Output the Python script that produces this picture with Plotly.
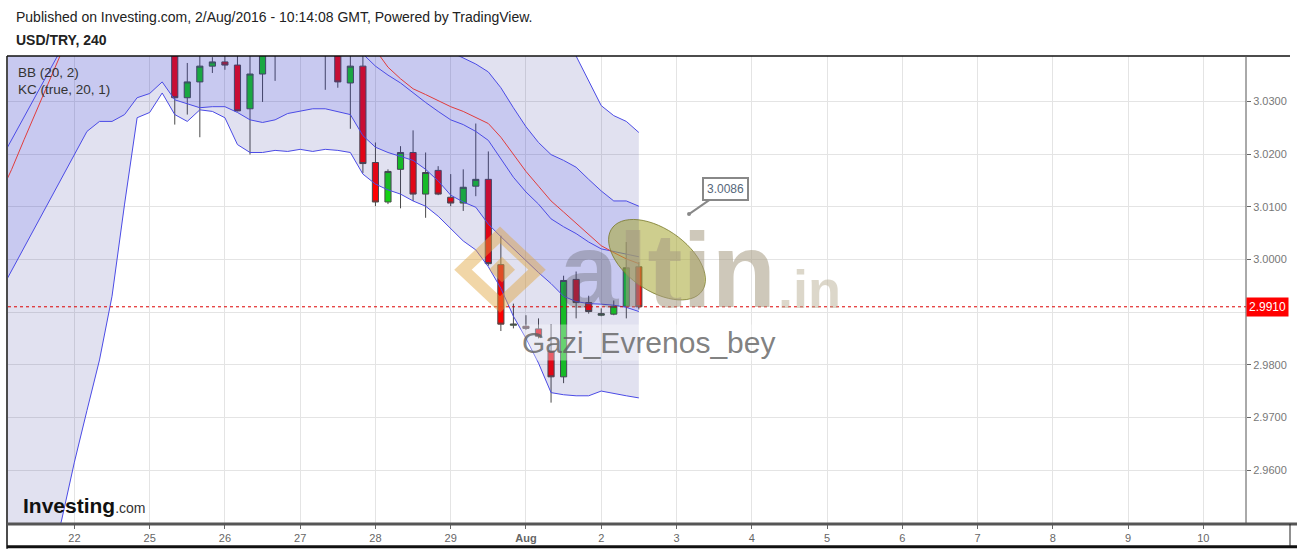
import numpy as np
import plotly.graph_objects as go

# ---------------- data ----------------
# time axis in trading-day units: 0 = 22 Jul 2016, one 4-hour bar = 1/6 day
day_ticks = list(range(16))
day_labels = ["22", "25", "26", "27", "28", "29", "<b>Aug</b>", "2", "3", "4",
              "5", "6", "7", "8", "9", "10"]
first_bar_day = -1          # first indicator bar: 21 Jul 00:00
bars_per_day = 6

# Bollinger Bands (20, 2)
bb_upper = [3.1228, 3.1209, 3.1209, 3.1247, 3.1275, 3.1288, 3.1286, 3.1271, 3.1250, 3.1205,
            3.1086, 3.0979, 3.1007, 3.0988, 3.1041, 3.1062, 3.1043, 3.1047, 3.1054, 3.1086,
            3.1082, 3.1064, 3.1041, 3.1013, 3.0971, 3.0930, 3.0881, 3.0833, 3.0781, 3.0709,
            3.0652, 3.0599, 3.0562, 3.0537, 3.0524, 3.0520, 3.0522, 3.0526, 3.0520, 3.0530,
            3.0518, 3.0507, 3.0484, 3.0475, 3.0475, 3.0426, 3.0386, 3.0339, 3.0292, 3.0273,
            3.0262, 3.0241]
bb_basis = [3.0120, 3.0171, 3.0228, 3.0284, 3.0341, 3.0398, 3.0450, 3.0492, 3.0530, 3.0567,
            3.0596, 3.0624, 3.0643, 3.0652, 3.0658, 3.0662, 3.0665, 3.0665, 3.0662, 3.0652,
            3.0643, 3.0633, 3.0624, 3.0609, 3.0590, 3.0567, 3.0545, 3.0520, 3.0492, 3.0435,
            3.0398, 3.0365, 3.0343, 3.0324, 3.0313, 3.0301, 3.0290, 3.0281, 3.0269, 3.0258,
            3.0232, 3.0199, 3.0167, 3.0139, 3.0111, 3.0090, 3.0069, 3.0047, 3.0026, 3.0013,
            3.0001, 2.9992]
bb_lower = [2.9020, 2.9133, 2.9247, 2.9322, 2.9407, 2.9507, 2.9615, 2.9713, 2.9809, 2.9930,
            3.0105, 3.0269, 3.0279, 3.0316, 3.0275, 3.0262, 3.0284, 3.0281, 3.0269, 3.0218,
            3.0203, 3.0203, 3.0207, 3.0205, 3.0209, 3.0205, 3.0209, 3.0207, 3.0203, 3.0162,
            3.0143, 3.0132, 3.0124, 3.0111, 3.0101, 3.0082, 3.0058, 3.0035, 3.0018, 2.9986,
            2.9945, 2.9892, 2.9850, 2.9803, 2.9747, 2.9743, 2.9741, 2.9741, 2.9750, 2.9745,
            2.9741, 2.9737]
# Keltner Channels (true, 20, 1)
kc_upper = [3.0433, 3.0477, 3.0518, 3.0562, 3.0603, 3.0647, 3.0690, 3.0722, 3.0760, 3.0805,
            3.0830, 3.0820, 3.0828, 3.0817, 3.0850, 3.0858, 3.0865, 3.0860, 3.0852, 3.0849,
            3.0847, 3.0837, 3.0813, 3.0782, 3.0747, 3.0709, 3.0667, 3.0628, 3.0577, 3.0549,
            3.0522, 3.0498, 3.0477, 3.0449, 3.0428, 3.0413, 3.0394, 3.0382, 3.0371, 3.0356,
            3.0326, 3.0288, 3.0252, 3.0222, 3.0199, 3.0188, 3.0175, 3.0152, 3.0130, 3.0111,
            3.0111, 3.0101]
kc_basis = [3.0184, 3.0228, 3.0271, 3.0315, 3.0358, 3.0401, 3.0445, 3.0483, 3.0511, 3.0533,
            3.0552, 3.0564, 3.0571, 3.0577, 3.0577, 3.0577, 3.0577, 3.0575, 3.0571, 3.0564,
            3.0556, 3.0549, 3.0539, 3.0530, 3.0515, 3.0498, 3.0477, 3.0454, 3.0426, 3.0390,
            3.0367, 3.0350, 3.0335, 3.0316, 3.0298, 3.0281, 3.0265, 3.0256, 3.0243, 3.0226,
            3.0190, 3.0156, 3.0128, 3.0105, 3.0077, 3.0062, 3.0049, 3.0033, 3.0020, 3.0015,
            3.0011, 3.0005]
kc_lower = [2.9935, 2.9979, 3.0024, 3.0067, 3.0113, 3.0156, 3.0199, 3.0243, 3.0262, 3.0262,
            3.0275, 3.0307, 3.0315, 3.0337, 3.0303, 3.0296, 3.0288, 3.0290, 3.0290, 3.0279,
            3.0265, 3.0260, 3.0265, 3.0277, 3.0282, 3.0286, 3.0286, 3.0281, 3.0275, 3.0235,
            3.0213, 3.0203, 3.0196, 3.0188, 3.0171, 3.0149, 3.0122, 3.0109, 3.0099, 3.0067,
            3.0043, 3.0020, 2.9998, 2.9975, 2.9954, 2.9930, 2.9920, 2.9916, 2.9915, 2.9913,
            2.9909, 2.9901]

# USD/TRY 4h candles, first one = bar #14 (25 Jul 08:00)
candle_first_bar = 14
c_open = [3.0420, 3.0307, 3.0337, 3.0367, 3.0375, 3.0369, 3.0286, 3.0352, 3.0395, 3.0405,
          3.0415, 3.0405, 3.0410, 3.0400, 3.0335, 3.0367, 3.0184, 3.0109, 3.0171, 3.0203,
          3.0124, 3.0169, 3.0118, 3.0107, 3.0139, 3.0152, 2.9990, 2.9875, 2.9873, 2.9868,
          2.9826, 2.9777, 2.9962, 2.9918, 2.9894, 2.9896, 2.9911, 2.9986]
c_high = [3.0440, 3.0373, 3.0392, 3.0384, 3.0388, 3.0395, 3.0390, 3.0415, 3.0425, 3.0430,
          3.0435, 3.0425, 3.0420, 3.0410, 3.0390, 3.0388, 3.0222, 3.0171, 3.0215, 3.0245,
          3.0203, 3.0177, 3.0162, 3.0171, 3.0258, 3.0205, 3.0045, 2.9916, 2.9894, 2.9888,
          2.9877, 2.9969, 2.9977, 2.9931, 2.9907, 2.9922, 3.0033, 2.9995]
c_low = [3.0256, 3.0275, 3.0232, 3.0354, 3.0360, 3.0281, 3.0199, 3.0299, 3.0339, 3.0392,
         3.0395, 3.0390, 3.0322, 3.0326, 3.0248, 3.0164, 3.0101, 3.0105, 3.0097, 3.0111,
         3.0079, 3.0122, 3.0101, 3.0092, 3.0120, 2.9988, 2.9864, 2.9869, 2.9866, 2.9850,
         2.9728, 2.9765, 2.9888, 2.9897, 2.9892, 2.9894, 2.9888, 2.9905]
c_close = [3.0307, 3.0337, 3.0367, 3.0375, 3.0369, 3.0282, 3.0352, 3.0395, 3.0405, 3.0415,
           3.0405, 3.0410, 3.0400, 3.0337, 3.0367, 3.0182, 3.0109, 3.0167, 3.0203, 3.0124,
           3.0165, 3.0124, 3.0107, 3.0137, 3.0152, 2.9992, 2.9877, 2.9877, 2.9869, 2.9854,
           2.9777, 2.9960, 2.9918, 2.9901, 2.9897, 2.9911, 2.9984, 2.9910]

price_ticks = [2.96, 2.97, 2.98, 2.99, 3.00, 3.01, 3.02, 3.03]

# callout drawing "3.0086" (3 Aug, 04:00)
note_day, note_hour, note_value = 8, 4, 3.0086

# ---------------- derived positions ----------------
ind_x = [first_bar_day + i / bars_per_day for i in range(len(bb_upper))]
cnd_x = [first_bar_day + (candle_first_bar + i) / bars_per_day for i in range(len(c_open))]
last_close = c_close[-1]

# pixel geometry of the plotting area
W, H = 1297, 552
L, R, T, B = 8, 1246, 56, 527
def px(x):
    return (x - L) / (R - L)
def py(y):
    return (B - y) / (B - T)

BLUE = "rgb(75,75,230)"
fig = go.Figure()

fig.add_trace(go.Scatter(x=ind_x, y=bb_upper, mode="lines",
                         line=dict(color=BLUE, width=1), hoverinfo="skip"))
fig.add_trace(go.Scatter(x=ind_x, y=bb_lower, mode="lines", fill="tonexty",
                         fillcolor="rgba(40,45,150,0.14)",
                         line=dict(color=BLUE, width=1), hoverinfo="skip"))
fig.add_trace(go.Scatter(x=ind_x, y=kc_upper, mode="lines",
                         line=dict(color=BLUE, width=1), hoverinfo="skip"))
fig.add_trace(go.Scatter(x=ind_x, y=kc_lower, mode="lines", fill="tonexty",
                         fillcolor="rgba(50,60,240,0.14)",
                         line=dict(color=BLUE, width=1), hoverinfo="skip"))
fig.add_trace(go.Scatter(x=ind_x, y=kc_basis, mode="lines",
                         line=dict(color=BLUE, width=1), hoverinfo="skip"))
fig.add_trace(go.Scatter(x=ind_x, y=bb_basis, mode="lines",
                         line=dict(color="rgb(225,60,60)", width=1), hoverinfo="skip"))

fig.add_trace(go.Candlestick(
    x=cnd_x, open=c_open, high=c_high, low=c_low, close=c_close,
    increasing=dict(fillcolor="#14d214", line=dict(color="#4a4a4a", width=1)),
    decreasing=dict(fillcolor="#ff0000", line=dict(color="#4a4a4a", width=1)),
    whiskerwidth=0, hoverinfo="skip"))

x_left = (L - 74.4) / 75.26
x_right = (R - 74.4) / 75.26
y_top = 3.03 + (101.7 - T) / 5300
y_bot = 3.03 - (B - 101.7) / 5300

font_family = "Arial, Liberation Sans, sans-serif"

shapes = []
# current price dotted line
shapes.append(dict(type="line", xref="paper", yref="y", x0=0, x1=1, y0=last_close, y1=last_close,
                   line=dict(color="#dd0000", width=1, dash="dot"), layer="above"))
# watermark logo (diamond chevron)
cx, cy = 500, 271
shapes.append(dict(type="path", xref="paper", yref="paper",
                   path=f"M {px(cx)},{py(cy-35)} L {px(cx-37)},{py(cy)} L {px(cx)},{py(cy+35)} L {px(cx+37)},{py(cy)} Z",
                   line=dict(color="rgba(225,165,60,0.45)", width=12), fillcolor="rgba(0,0,0,0)"))
shapes.append(dict(type="path", xref="paper", yref="paper",
                   path=f"M {px(cx+2)},{py(cy-13)} L {px(cx-11)},{py(cy)} L {px(cx+2)},{py(cy+13)} L {px(cx+15)},{py(cy)} Z",
                   line=dict(width=0), fillcolor="rgba(225,165,60,0.45)"))
# ellipse drawing
t = np.linspace(0, 2 * np.pi, 60)
ea, eb, th = 55, 31, np.deg2rad(35)
ex = 657 + ea * np.cos(th) * np.cos(t) - eb * np.sin(th) * np.sin(t)
ey = 261 + ea * np.sin(th) * np.cos(t) + eb * np.cos(th) * np.sin(t)
epath = "M " + " L ".join(f"{px(a)},{py(b)}" for a, b in zip(ex, ey)) + " Z"
shapes.append(dict(type="path", xref="paper", yref="paper", path=epath,
                   fillcolor="rgba(165,165,50,0.55)", line=dict(color="rgba(120,120,40,0.8)", width=1)))
# frame lines
shapes.append(dict(type="line", xref="paper", yref="paper", x0=px(7), x1=px(7), y0=py(552), y1=py(56),
                   line=dict(color="#111", width=1.5)))
shapes.append(dict(type="line", xref="paper", yref="paper", x0=px(7), x1=px(1290), y0=py(56), y1=py(56),
                   line=dict(color="#111", width=1.5)))
shapes.append(dict(type="line", xref="paper", yref="paper", x0=1, x1=1, y0=py(527), y1=py(56),
                   line=dict(color="#555", width=1)))
shapes.append(dict(type="line", xref="paper", yref="paper", x0=px(7), x1=px(1297), y0=py(527), y1=py(527),
                   line=dict(color="#555", width=3)))
shapes.append(dict(type="line", xref="paper", yref="paper", x0=px(1290), x1=px(1290), y0=py(549), y1=py(527),
                   line=dict(color="#222", width=1)))
shapes.append(dict(type="line", xref="paper", yref="paper", x0=px(7), x1=px(1297), y0=py(550), y1=py(550),
                   line=dict(color="#111", width=3)))

ann = []
ann.append(dict(xref="paper", yref="paper", x=px(14), y=py(17), xanchor="left", yanchor="middle",
                text="Published on Investing.com, 2/Aug/2016 - 10:14:08 GMT, Powered by TradingView.",
                showarrow=False, font=dict(family=font_family, size=14, color="#222")))
ann.append(dict(xref="paper", yref="paper", x=px(14), y=py(40), xanchor="left", yanchor="middle",
                text="<b>USD/TRY, 240</b>", showarrow=False,
                font=dict(family=font_family, size=14, color="#222")))
ann.append(dict(xref="paper", yref="paper", x=px(16), y=py(73), xanchor="left", yanchor="middle",
                text="BB (20, 2)", showarrow=False, font=dict(family=font_family, size=13.5, color="#333")))
ann.append(dict(xref="paper", yref="paper", x=px(16), y=py(90), xanchor="left", yanchor="middle",
                text="KC (true, 20, 1)", showarrow=False, font=dict(family=font_family, size=13.5, color="#333")))
# watermark text
ann.append(dict(xref="paper", yref="paper", x=px(558), y=py(272), xanchor="left", yanchor="middle",
                text="<span style='color:rgba(80,80,80,0.55)'>a</span>ltin", showarrow=False,
                font=dict(family=font_family, size=105, color="rgba(165,155,130,0.55)", weight="bold")))
ann.append(dict(xref="paper", yref="paper", x=px(776), y=py(290), xanchor="left", yanchor="middle",
                text=".in", showarrow=False,
                font=dict(family=font_family, size=54, color="rgba(185,175,150,0.5)", weight="bold")))
ann.append(dict(xref="paper", yref="paper", x=px(648), y=py(344), xanchor="center", yanchor="middle",
                text="Gazi_Evrenos_bey", showarrow=False, bgcolor="rgba(255,255,255,0.35)",
                font=dict(family=font_family, size=30, color="rgba(95,95,95,0.8)")))
# Investing.com logo
ann.append(dict(xref="paper", yref="paper", x=px(21), y=py(508), xanchor="left", yanchor="middle",
                text="<b>Investing</b><span style='font-size:14px;color:#333'>.com</span>", showarrow=False,
                font=dict(family=font_family, size=21, color="#111")))
# callout
ann.append(dict(x=note_day + note_hour / 24, y=note_value, xref="x", yref="y",
                text=f"{note_value:.4f}", showarrow=True, arrowhead=6, arrowsize=0.5, arrowwidth=2,
                arrowcolor="#888", ax=36, ay=-25, bgcolor="white", bordercolor="#888",
                borderwidth=2, borderpad=3, font=dict(family=font_family, size=12, color="#56677a")))
# current price label
ann.append(dict(xref="paper", yref="y", x=1, y=last_close, xanchor="left", yanchor="middle",
                text=f"{last_close:.4f}", showarrow=False, bgcolor="#ff0000", borderpad=2,
                font=dict(family=font_family, size=12, color="white")))

# the 2.9900 label is hidden behind the current-price marker in the reference
tick_text = ["" if abs(v - last_close) < 0.002 else f"{v:.4f}" for v in price_ticks]

fig.update_layout(
    width=W, height=H, margin=dict(l=L, r=W - R, t=T, b=H - B),
    paper_bgcolor="white", plot_bgcolor="white", showlegend=False,
    shapes=shapes, annotations=ann,
    xaxis=dict(range=[x_left, x_right], tickvals=day_ticks, ticktext=day_labels,
               showgrid=True, gridcolor="#e4e4e4", gridwidth=1, zeroline=False, showline=False,
               ticks="outside", ticklen=4, tickcolor="#666",
               tickfont=dict(family=font_family, size=11, color="#666"),
               rangeslider=dict(visible=False), fixedrange=True),
    yaxis=dict(range=[y_bot, y_top], side="right", tickvals=price_ticks,
               ticktext=tick_text,
               showgrid=True, gridcolor="#e4e4e4", gridwidth=1, zeroline=False, showline=False,
               ticks="outside", ticklen=4, tickcolor="#666",
               tickfont=dict(family=font_family, size=11, color="#777"), fixedrange=True),
)

fig.write_html("out.html", config={"displayModeBar": False},
               post_script="document.body.style.margin='0px';document.body.style.overflow='hidden';")
